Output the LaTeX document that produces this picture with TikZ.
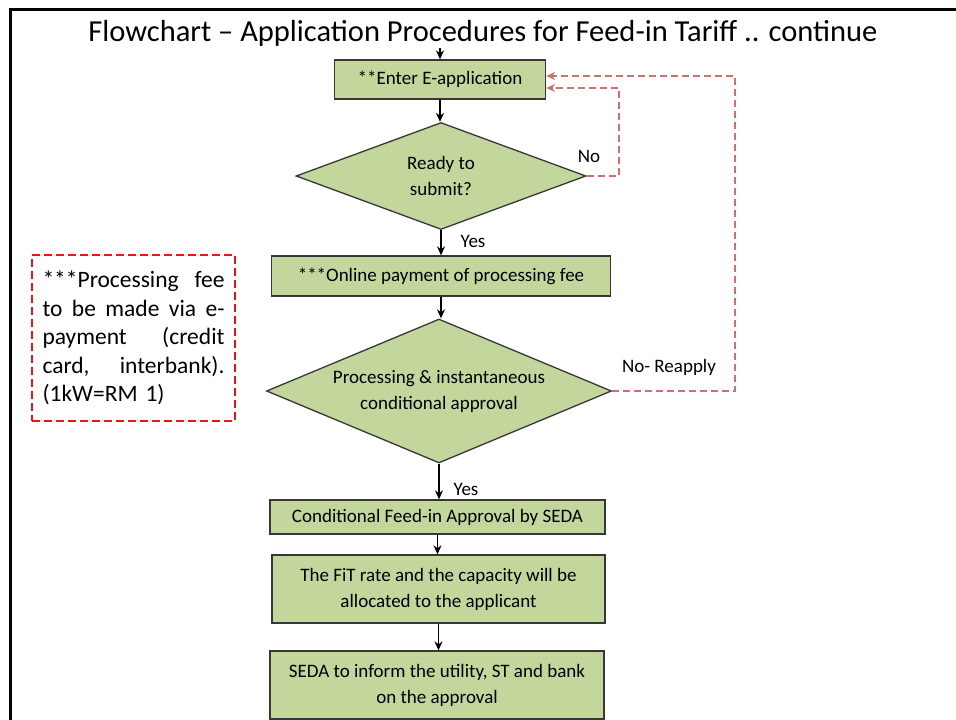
\documentclass[tikz,border=0pt]{standalone}
\usepackage{fontspec}
\setmainfont{Carlito}
\usepackage{tikz}
\usetikzlibrary{arrows,arrows.meta,shapes,positioning}
\usepackage{xcolor}
\definecolor{fitgreen}{RGB}{195,214,155}
\definecolor{fitedge}{RGB}{55,55,55}
\definecolor{loopred}{RGB}{208,112,110}
\definecolor{notered}{RGB}{240,20,20}
\tikzstyle{arrow} = [line width=1.3pt,-{Stealth[length=9pt,width=8pt]},color=black]
\tikzstyle{loopline} = [line width=1.5pt,-{Stealth[length=9pt,width=8pt]},color=loopred,dash pattern=on 7pt off 4pt]
\tikzstyle{stepbox} = [rectangle,draw=fitedge,fill=fitgreen,line width=1.3pt,align=center,inner sep=0pt,font=\fontsize{19}{26}\selectfont]
\tikzstyle{decision} = [diamond,draw=fitedge,fill=fitgreen,line width=1.3pt,inner sep=0pt]
\tikzstyle{lbl} = [inner sep=0pt,font=\fontsize{19}{22}\selectfont]
\newcommand{\noteline}[1]{\leavevmode\hbox to 182pt{\spaceskip=0.25em plus 3em\relax #1}}

\begin{document}
\begin{tikzpicture}[x=1pt,y=-1pt]
\useasboundingbox (0,0) rectangle (956,720);
% Slide frame and title
\draw[line width=3pt] (10,722) -- (10,9) -- (958,9);
\node[inner sep=0pt,font=\fontsize{30.5}{34}\selectfont] (title) at (483,33) {Flowchart -- Application Procedures for Feed-in Tariff .. continue};

% Steps
\coordinate (entry) at (440,48);
\node[stepbox,minimum width=211pt,minimum height=39pt] (apply) at (440,79.5) {**Enter E-application};
\node[decision,minimum width=290pt,minimum height=107pt,
  label={[align=center,font=\fontsize{19}{26}\selectfont]center:Ready to\\submit?}] (ready) at (441,176) {};
\node[stepbox,minimum width=339pt,minimum height=40pt] (payfee) at (441,276) {***Online payment of processing fee};
\node[decision,minimum width=345pt,minimum height=144pt,
  label={[align=center,font=\fontsize{19}{26}\selectfont]center:Processing \& instantaneous\\conditional approval}] (process) at (439,391) {};
\node[stepbox,minimum width=335pt,minimum height=34pt] (seda) at (437.5,517) {Conditional Feed-in Approval by SEDA};
\node[stepbox,minimum width=333pt,minimum height=68pt] (rate) at (438.5,589) {The FiT rate and the capacity will be\\allocated to the applicant};
\node[stepbox,minimum width=334pt,minimum height=68pt] (inform) at (437,685) {SEDA to inform the utility, ST and bank\\on the approval};

% Note
\node[draw=notered,line width=2pt,dash pattern=on 8pt off 4pt,text width=182pt,minimum height=166pt,inner xsep=10.5pt,align=left,font=\fontsize{23.5}{28.5}\selectfont] (note) at (133.5,338)
{\noteline{***Processing fee}\\
\noteline{to be made via e-}\\
\noteline{payment (credit}\\
\noteline{card, interbank).}\\
(1kW=RM 1)};

% Flow
\draw[arrow] (entry) -- (apply.north);
\draw[arrow] (apply.south) -- (apply.south |- ready.north);
\draw[arrow] (ready.south) -- (ready.south |- payfee.north);
\draw[arrow] (payfee.south) -- (payfee.south |- process.north);
\draw[arrow] (process.south) -- (process.south |- seda.north);
\draw[arrow] (seda.south) -- (seda.south |- rate.north);
\draw[arrow] (rate.south) -- (rate.south |- inform.north);

% Loops back
\coordinate (back1) at (619,88);
\coordinate (back2) at (735,76);
\draw[loopline] (ready.east) -| (back1) -- (back1 -| apply.east);
\draw[loopline] (process.east) -| (back2) -- (back2 -| apply.east);

% Labels
\node[lbl] (no1) at (589,156) {No};
\node[lbl] (yes1) at (473,241) {Yes};
\node[lbl] (no2) at (669,367) {No- Reapply};
\node[lbl] (yes2) at (466,489) {Yes};
\end{tikzpicture}
\end{document}
